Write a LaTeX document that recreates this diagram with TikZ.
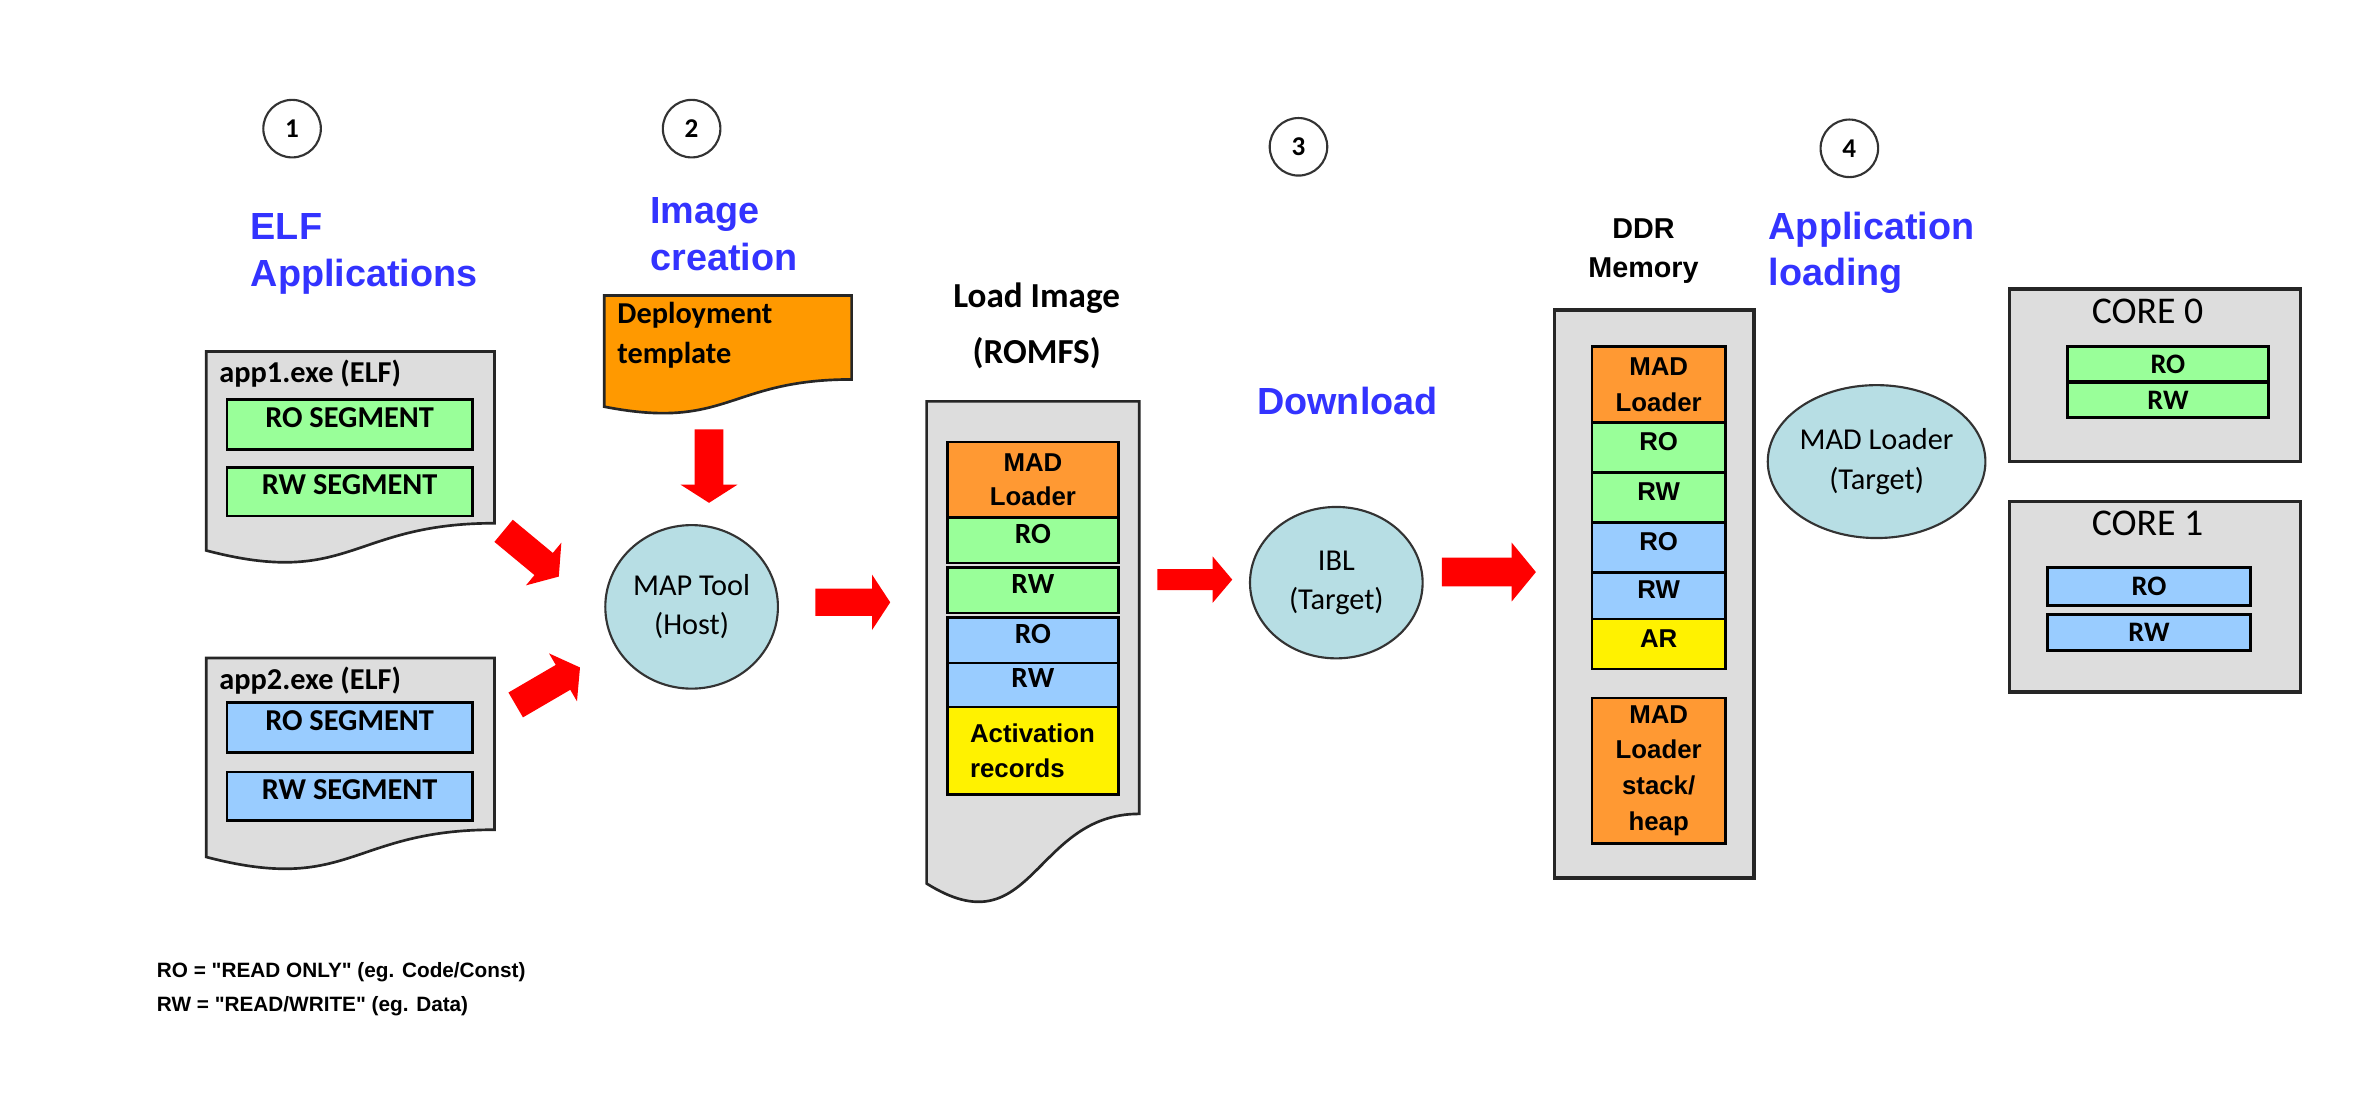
\documentclass[tikz,border=0pt]{standalone}
\usepackage{fontspec}
\setmainfont{Liberation Sans}
\newfontfamily\calibri{Carlito}
\newfontfamily\legendfont[Ligatures=TeXOff]{Liberation Sans}
\usetikzlibrary{calc,shapes.geometric,positioning,arrows.meta}
\definecolor{HeadBlue}{RGB}{51,51,255}
\definecolor{DocGray}{RGB}{221,221,221}
\definecolor{SegGreen}{RGB}{153,255,153}
\definecolor{SegBlue}{RGB}{153,204,255}
\definecolor{SegOrange}{RGB}{255,153,51}
\definecolor{TmplOrange}{RGB}{255,153,0}
\definecolor{ToolBlue}{RGB}{183,222,228}

\begin{document}
\begin{tikzpicture}[x=0.01cm, y=0.01cm, node distance=1cm]
	\tikzstyle{stepnum} = [circle, draw=black!80, minimum size=0.38cm, inner sep=0pt, font=\calibri\bfseries\fontsize{5.1}{6}\selectfont]
	\tikzstyle{heading} = [anchor=west, align=left, inner sep=0pt, text=HeadBlue, font=\bfseries\fontsize{7.1}{8.8}\selectfont]
	\tikzstyle{docbody} = [rectangle, inner sep=0pt]
	\tikzstyle{doc} = [draw=black!85, fill=DocGray, line width=0.5pt]
	\tikzstyle{panel} = [rectangle, draw=black!85, fill=DocGray, line width=0.6pt]
	\tikzstyle{cellbase} = [rectangle, draw=black, line width=0.5pt, inner sep=0pt, outer sep=0pt]
	\tikzstyle{cell} = [cellbase, text height=0.13cm, text depth=0.09cm, font=\calibri\bfseries\fontsize{5.5}{7}\selectfont]
	\tikzstyle{seg} = [cell, font=\calibri\bfseries\fontsize{5.7}{7}\selectfont]
	\tikzstyle{tool} = [ellipse, draw=black!80, fill=ToolBlue, align=center, inner sep=0pt, font=\calibri\fontsize{5.7}{7.4}\selectfont]
	\tikzstyle{title} = [inner sep=0pt, font=\calibri\bfseries\fontsize{5.7}{7.4}\selectfont]
	\tikzstyle{bigarrow} = [red, line width=0.19cm, -{Triangle[length=0.13cm, width=0.37cm]}]
	
	\useasboundingbox (0,0) rectangle (1568,-724);
	
	\node (num1) [stepnum] at (193,-85) {1};
	\node (num2) [stepnum] at (457,-85) {2};
	\node (num3) [stepnum] at (858,-97) {3};
	\node (num4) [stepnum] at (1222,-98) {4};
	
	\node (elfhead) [heading] at (165,-168) {ELF\\Applications};
	\node (imghead) [heading] at (429,-155) {Image\\creation};
	\node (dlhead) [heading] at (830,-265) {Download};
	\node (apphead) [heading] at (1168,-167) {Application\\loading};
	
	\node (app1) [docbody, minimum width=1.89cm, minimum height=1.12cm] at (231.5,-289) {};
	\draw [doc] (app1.north west) -- (app1.north east) -- (app1.south east) .. controls (app1.south) and ($(app1.south)+(0,-43)$) .. ($(app1.south west)+(0,-18)$) -- cycle;
	\node (app1name) [title, below right=0.05cm and 0.08cm of app1.north west] {app1.exe (ELF)};
	\node (app1ro) [seg, fill=SegGreen, minimum width=1.62cm, minimum height=0.33cm] at (231,-280.5) {RO SEGMENT};
	\node (app1rw) [seg, fill=SegGreen, minimum width=1.62cm, minimum height=0.32cm, below=0.12cm of app1ro] {RW SEGMENT};
	
	\node (app2) [docbody, minimum width=1.89cm, minimum height=1.12cm, below=0.89cm of app1] {};
	\draw [doc] (app2.north west) -- (app2.north east) -- (app2.south east) .. controls (app2.south) and ($(app2.south)+(0,-43)$) .. ($(app2.south west)+(0,-18)$) -- cycle;
	\node (app2name) [title, below right=0.05cm and 0.08cm of app2.north west] {app2.exe (ELF)};
	\node (app2ro) [seg, fill=SegBlue, minimum width=1.62cm, minimum height=0.33cm] at (231,-480.5) {RO SEGMENT};
	\node (app2rw) [seg, fill=SegBlue, minimum width=1.62cm, minimum height=0.32cm, below=0.13cm of app2ro] {RW SEGMENT};
	
	\node (tmpl) [docbody, minimum width=1.62cm, minimum height=0.54cm] at (481,-223) {};
	\draw [doc, fill=TmplOrange] (tmpl.north west) -- (tmpl.north east) -- (tmpl.south east) .. controls (tmpl.south) and ($(tmpl.south)+(0,-34)$) .. ($(tmpl.south west)+(0,-18)$) -- cycle;
	\node (tmplname) [title, align=left, below right=0.04cm and 0.08cm of tmpl.north west] {Deployment\\template};
	
	\node (maptool) [tool, minimum width=1.14cm, minimum height=1.08cm] at (457,-401) {MAP Tool\\(Host)};
	
	\node (romname) [title, align=center, font=\calibri\bfseries\fontsize{6.6}{10.5}\selectfont] at (685,-215.5) {Load Image\\(ROMFS)};
	\node (romfs) [docbody, minimum width=1.39cm, minimum height=2.71cm] at (682.5,-401.5) {};
	\draw [doc] (romfs.north west) -- (romfs.north east) -- (romfs.south east) .. controls (romfs.south) and ($(romfs.south)+(0,-90)$) .. ($(romfs.south west)+(0,-46)$) -- cycle;
	\node (rommad) [cellbase, fill=SegOrange, minimum width=1.13cm, minimum height=0.50cm, align=center, font=\bfseries\fontsize{4.85}{6.5}\selectfont] at (682.5,-317) {MAD\\Loader};
	\node (romro1) [cell, fill=SegGreen, minimum width=1.13cm, minimum height=0.30cm, below=0pt of rommad] {RO};
	\node (romrw1) [cell, fill=SegGreen, minimum width=1.13cm, minimum height=0.30cm, below=0.03cm of romro1] {RW};
	\node (romro2) [cell, fill=SegBlue, minimum width=1.13cm, minimum height=0.30cm, below=0.03cm of romrw1] {RO};
	\node (romrw2) [cell, fill=SegBlue, minimum width=1.13cm, minimum height=0.29cm, below=0pt of romro2] {RW};
	\node (romact) [cellbase, fill=yellow, minimum width=1.13cm, minimum height=0.58cm, align=left, text width=0.83cm, font=\bfseries\fontsize{4.85}{6.5}\selectfont, below=0pt of romrw2] {Activation\\records};
	
	\node (ibl) [tool, minimum width=1.14cm, minimum height=1.00cm] at (883,-385) {IBL\\(Target)};
	
	\node (ddrname) [title, align=center, font=\bfseries\fontsize{5.4}{7.4}\selectfont] at (1086,-166) {DDR\\Memory};
	\node (ddr) [panel, minimum width=1.32cm, minimum height=3.75cm] at (1093,-392.5) {};
	\node (ddrmad) [cellbase, fill=SegOrange, minimum width=0.88cm, minimum height=0.50cm, align=center, font=\bfseries\fontsize{4.85}{6.8}\selectfont] at (1096,-254) {MAD\\Loader};
	\node (ddrro1) [cell, fill=SegGreen, minimum width=0.88cm, minimum height=0.33cm, font=\bfseries\fontsize{4.85}{6}\selectfont, below=0pt of ddrmad] {RO};
	\node (ddrrw1) [cell, fill=SegGreen, minimum width=0.88cm, minimum height=0.33cm, font=\bfseries\fontsize{4.85}{6}\selectfont, below=0pt of ddrro1] {RW};
	\node (ddrro2) [cell, fill=SegBlue, minimum width=0.88cm, minimum height=0.33cm, font=\bfseries\fontsize{4.85}{6}\selectfont, below=0pt of ddrrw1] {RO};
	\node (ddrrw2) [cell, fill=SegBlue, minimum width=0.88cm, minimum height=0.31cm, font=\bfseries\fontsize{4.85}{6}\selectfont, below=0pt of ddrro2] {RW};
	\node (ddrar) [cell, fill=yellow, minimum width=0.88cm, minimum height=0.33cm, font=\bfseries\fontsize{4.85}{6}\selectfont, below=0pt of ddrrw2] {AR};
	\node (ddrheap) [cellbase, fill=SegOrange, minimum width=0.88cm, minimum height=0.96cm, align=center, font=\bfseries\fontsize{4.85}{6.7}\selectfont, below=0.19cm of ddrar] {MAD\\Loader\\stack/\\heap};
	
	\node (madtool) [tool, minimum width=1.27cm, minimum height=1.01cm] at (1240,-305) {MAD Loader\\(Target)};
	
	\node (core0) [panel, minimum width=1.92cm, minimum height=1.14cm] at (1424,-248) {};
	\node (core0name) [title, font=\calibri\fontsize{7.1}{8}\selectfont, below=0.07cm of core0.north, xshift=-0.05cm] {CORE 0};
	\node (core0ro) [cellbase, fill=SegGreen, minimum width=1.33cm, minimum height=0.23cm, font=\calibri\bfseries\fontsize{5.3}{6}\selectfont] at (1432.5,-240.5) {RO};
	\node (core0rw) [cellbase, fill=SegGreen, minimum width=1.33cm, minimum height=0.23cm, font=\calibri\bfseries\fontsize{5.3}{6}\selectfont, below=0.01cm of core0ro] {RW};
	
	\node (core1) [panel, minimum width=1.92cm, minimum height=1.26cm, below=0.24cm of core0] {};
	\node (core1name) [title, font=\calibri\fontsize{7.1}{8}\selectfont, below=0.07cm of core1.north, xshift=-0.05cm] {CORE 1};
	\node (core1ro) [cellbase, fill=SegBlue, minimum width=1.34cm, minimum height=0.25cm, font=\calibri\bfseries\fontsize{5.3}{6}\selectfont] at (1420,-387.5) {RO};
	\node (core1rw) [cellbase, fill=SegBlue, minimum width=1.34cm, minimum height=0.24cm, font=\calibri\bfseries\fontsize{5.3}{6}\selectfont, below=0.06cm of core1ro] {RW};
	
	\node (legend) [anchor=west, align=left, inner sep=0pt, font=\legendfont\bfseries\fontsize{3.9}{6.5}\selectfont] at (103,-653.5) {RO = "READ ONLY" (eg. Code/Const)\\RW = "READ/WRITE" (eg. Data)};
	
	\draw [bigarrow, -{Triangle[length=0.12cm, width=0.37cm]}] ([xshift=-0.125cm, yshift=-0.33cm]tmpl.south) -- ([xshift=0.115cm, yshift=0.14cm]maptool.north);
	\draw [bigarrow, -{Triangle[length=0.13cm, width=0.36cm]}] ([xshift=0.06cm, yshift=-0.05cm]app1.south east) -- ([xshift=-0.30cm, yshift=0.20cm]maptool.west);
	\draw [bigarrow, -{Triangle[length=0.13cm, width=0.36cm]}] ([xshift=0.14cm, yshift=-0.31cm]app2.north east) -- ([xshift=-0.16cm, yshift=-0.40cm]maptool.west);
	\draw [bigarrow, line width=0.18cm, -{Triangle[length=0.12cm, width=0.36cm]}] ([xshift=0.24cm, yshift=0.03cm]maptool.east) -- ([xshift=-0.24cm, yshift=0.035cm]romfs.west);
	\draw [bigarrow, line width=0.14cm, -{Triangle[length=0.13cm, width=0.30cm]}] ([xshift=0.12cm, yshift=0.185cm]romfs.east) -- ([xshift=-0.11cm, yshift=0.02cm]ibl.west);
	\draw [bigarrow, line width=0.19cm, -{Triangle[length=0.16cm, width=0.38cm]}] ([xshift=0.12cm, yshift=0.07cm]ibl.east) -- ([xshift=-0.11cm, yshift=0.145cm]ddr.west);
\end{tikzpicture}
\end{document}
